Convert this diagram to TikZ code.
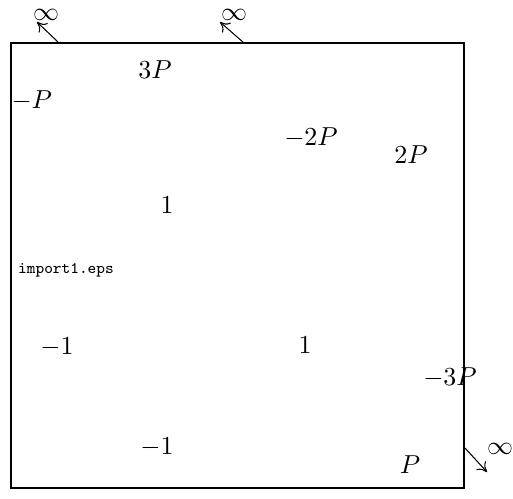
\documentclass[tikz,border=0pt]{standalone}
\usetikzlibrary{positioning,arrows.meta}
\begin{document}
\begin{tikzpicture}[x=0.385pt,y=-0.385pt,>={To[length=3.5pt,width=5pt]}]
  \useasboundingbox (0,0) rectangle (513,498);
  \coordinate (TL) at (11,43);
  \coordinate (BR) at (464,488);
  \draw[thick] (TL) rectangle (BR);
  % points at infinity
  \coordinate (A1) at (59,43);
  \coordinate (A2) at (244,43);
  \coordinate (A3) at (464,447);
  \coordinate (E1) at (37,22);
  \coordinate (E2) at (220,22);
  \coordinate (E3) at (487,472);
  \draw[->] (A1) -- (E1);
  \draw[->] (A2) -- (E2);
  \draw[->] (A3) -- (E3);
  \node[inner sep=0pt] (i1) at (46,15) {$\infty$};
  \node[inner sep=0pt] (i2) at (234,15) {$\infty$};
  \node[inner sep=0pt] (i3) at (500,449) {$\infty$};
  % labels
  \node (p3) at (155,70) {$3P$};
  \node[right,inner sep=0pt] (mp) at (11,101) {$-P$};
  \node (m2p) at (311,138) {$-2P$};
  \node (p2) at (411,155) {$2P$};
  \node (one1) at (167,205) {$1$};
  \node (eps) at (66,270) {\fontsize{6.3pt}{7pt}\selectfont\ttfamily import1.eps};
  \node (mone1) at (57,347) {$-1$};
  \node (one2) at (305,345) {$1$};
  \node (m3p) at (450,378) {$-3P$};
  \node (mone2) at (157,447) {$-1$};
  \node (p1) at (410,465) {$P$};
\end{tikzpicture}
\end{document}
